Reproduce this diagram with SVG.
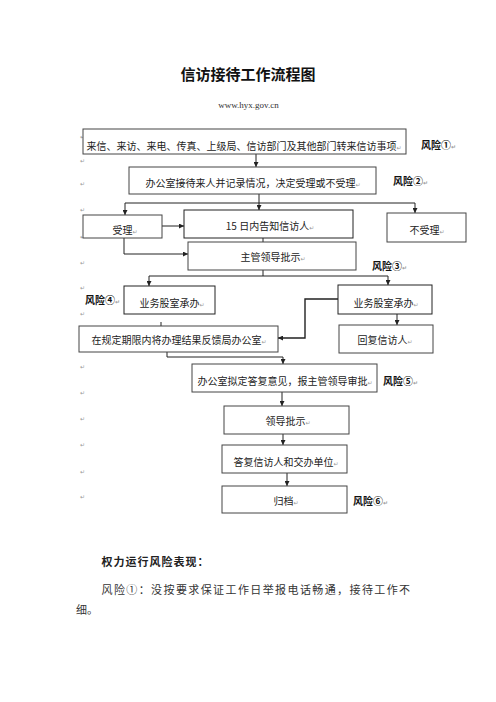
<svg xmlns="http://www.w3.org/2000/svg" width="496" height="702" viewBox="0 0 496 702">
<defs>
<marker id="ar" markerWidth="5" markerHeight="5" refX="5" refY="2.5" orient="auto" markerUnits="userSpaceOnUse">
<path d="M0,0 L5,2.5 L0,5 z" fill="#222"/>
</marker>
<style>
.box{fill:#fff;stroke:#444;stroke-width:1}
.t{font-family:"Noto Sans CJK SC","Liberation Sans",sans-serif;font-size:10px;fill:#222;text-anchor:middle}
.r{font-family:"Noto Sans CJK SC","Liberation Sans",sans-serif;font-size:10px;font-weight:bold;fill:#111}
.p{font-family:"DejaVu Sans",sans-serif;font-size:6px;fill:#999}
.c{fill:none;stroke:#222;stroke-width:1}
.ca{fill:none;stroke:#222;stroke-width:1;marker-end:url(#ar)}
.body{font-family:"Noto Sans CJK SC","Liberation Sans",sans-serif;font-size:11px;fill:#333}
</style>
</defs>
<rect width="496" height="702" fill="#fff"/>
<text x="248" y="80" style="font-family:'Noto Sans CJK SC',sans-serif;font-size:15px;font-weight:bold;fill:#111;text-anchor:middle">信访接待工作流程图</text>
<text x="248.5" y="108" style="font-family:'Liberation Serif',serif;font-size:9px;fill:#333;text-anchor:middle">www.hyx.gov.cn</text>

<g id="margin-marks">
<text class="p" x="80" y="139">↵</text>
<text class="p" x="80" y="163">↵</text>
<text class="p" x="80" y="186">↵</text>
<text class="p" x="80" y="212">↵</text>
<text class="p" x="80" y="239">↵</text>
<text class="p" x="80" y="265">↵</text>
<text class="p" x="80" y="290">↵</text>
<text class="p" x="80" y="316">↵</text>
<text class="p" x="80" y="369">↵</text>
<text class="p" x="80" y="395">↵</text>
<text class="p" x="80" y="421">↵</text>
<text class="p" x="80" y="447">↵</text>
<text class="p" x="80" y="474">↵</text>
<text class="p" x="80" y="499">↵</text>
</g>

<g id="connectors">
<line class="ca" x1="256" y1="154" x2="256" y2="167"/>
<polyline class="c" points="259,194 259,203"/>
<line class="c" x1="125" y1="203" x2="415" y2="203"/>
<line class="ca" x1="125" y1="203" x2="125" y2="215"/>
<line class="ca" x1="259" y1="203" x2="259" y2="210"/>
<line class="ca" x1="415" y1="203" x2="415" y2="213"/>
<line class="ca" x1="162" y1="226" x2="184" y2="226"/>
<line class="c" x1="263" y1="238" x2="263" y2="242"/>
<polyline class="ca" points="124,238 124,254 188,254"/>
<line class="c" x1="263" y1="270" x2="263" y2="276"/>
<line class="c" x1="149" y1="276" x2="388" y2="276"/>
<line class="ca" x1="149" y1="276" x2="149" y2="286"/>
<line class="ca" x1="388" y1="276" x2="388" y2="285"/>
<polyline class="ca" style="stroke-width:1.4" points="338,299 305,299 305,338 278,338"/>
<line class="ca" x1="397" y1="314" x2="397" y2="325"/>
<line class="c" x1="161" y1="322" x2="161" y2="326"/>
<polyline class="ca" points="167,352 167,357 283,357 283,364"/>
<line class="ca" x1="282" y1="392" x2="282" y2="406"/>
<line class="ca" x1="283" y1="434" x2="283" y2="445"/>
<line class="ca" x1="287" y1="473" x2="287" y2="486"/>
</g>

<g id="n1"><rect class="box" x="83" y="129" width="323" height="25"/><text class="t" x="244" y="149.5">来信、来访、来电、传真、上级局、信访部门及其他部门转来信访事项<tspan class="p">↵</tspan></text></g>
<g id="risk1"><text class="r" x="421" y="149">风险①<tspan class="p">↵</tspan></text></g>
<g id="n2"><rect class="box" x="129" y="167" width="247" height="27"/><text class="t" x="253" y="187">办公室接待来人并记录情况，决定受理或不受理<tspan class="p">↵</tspan></text></g>
<g id="risk2"><text class="r" x="393" y="185">风险②<tspan class="p">↵</tspan></text></g>
<g id="n3"><rect class="box" x="83" y="215" width="79" height="23"/><text class="t" x="125" y="234">受理<tspan class="p">↵</tspan></text></g>
<g id="n4"><rect class="box" x="184" y="210" width="169" height="28" style="stroke:#222"/><text class="t" x="270" y="230">15 日内告知信访人<tspan class="p">↵</tspan></text></g>
<g id="n5"><rect class="box" x="387" y="213" width="79" height="29"/><text class="t" x="427" y="233.5">不受理<tspan class="p">↵</tspan></text></g>
<g id="n6"><rect class="box" x="188" y="242" width="168" height="28"/><text class="t" x="273" y="261">主管领导批示<tspan class="p">↵</tspan></text></g>
<g id="risk3"><text class="r" x="372" y="270">风险③<tspan class="p">↵</tspan></text></g>
<g id="n7"><rect class="box" x="124" y="286" width="91" height="28" style="stroke:#222"/><text class="t" x="172" y="306.5">业务股室承办<tspan class="p">↵</tspan></text></g>
<g id="risk4"><text class="r" x="85" y="304">风险④<tspan class="p">↵</tspan></text></g>
<g id="n8"><rect class="box" x="338" y="285" width="94" height="29" style="stroke:#222"/><text class="t" x="386" y="306.5">业务股室承办<tspan class="p">↵</tspan></text></g>
<g id="n9"><rect class="box" x="79" y="326" width="199" height="26"/><text class="t" x="179" y="343.5">在规定期限内将办理结果反馈局办公室<tspan class="p">↵</tspan></text></g>
<g id="n10"><rect class="box" x="339" y="325" width="94" height="28"/><text class="t" x="385" y="343.5">回复信访人<tspan class="p">↵</tspan></text></g>
<g id="n11"><rect class="box" x="192" y="364" width="185" height="28"/><text class="t" x="285" y="385">办公室拟定答复意见，报主管领导审批<tspan class="p">↵</tspan></text></g>
<g id="risk5"><text class="r" x="383" y="384.5">风险⑤<tspan class="p">↵</tspan></text></g>
<g id="n12"><rect class="box" x="224" y="406" width="125" height="28"/><text class="t" x="288" y="425">领导批示<tspan class="p">↵</tspan></text></g>
<g id="n13"><rect class="box" x="222" y="445" width="125" height="28"/><text class="t" x="286" y="466">答复信访人和交办单位<tspan class="p">↵</tspan></text></g>
<g id="n14"><rect class="box" x="222" y="486" width="125" height="27"/><text class="t" x="286" y="505">归档<tspan class="p">↵</tspan></text></g>
<g id="risk6"><text class="r" x="353" y="504.5">风险⑥<tspan class="p">↵</tspan></text></g>

<g id="notes">
<text class="body" x="101.5" y="565.5" style="font-weight:bold;letter-spacing:1px;fill:#222">权力运行风险表现：</text>
<text class="body" x="101.5" y="594" style="letter-spacing:1.4px">风险①：没按要求保证工作日举报电话畅通，接待工作不</text>
<text class="body" x="76" y="614">细。</text>
</g>
</svg>
